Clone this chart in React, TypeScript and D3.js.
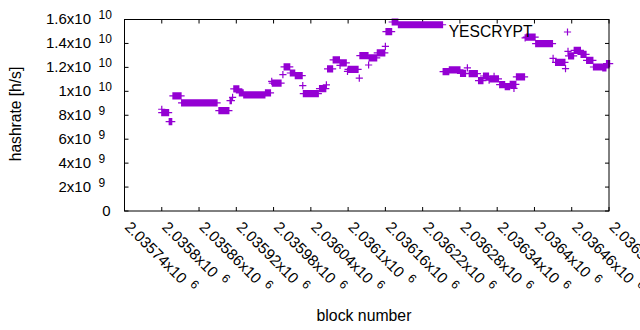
import React from "react";
import * as d3 from "d3";

// Runs of consecutive blocks sharing one hashrate estimate (block start, block end, h/s)
const runStart = [
  2035800, 2035800, 2035812, 2035818, 2035832, 2035892, 2035910, 2035914, 2035916, 2035925,
  2035932, 2035967, 2035977, 2035978, 2035995, 2035997, 2036007, 2036015, 2036027, 2036028,
  2036054, 2036065, 2036067, 2036076, 2036087, 2036088, 2036099, 2036100, 2036118, 2036119,
  2036133, 2036134, 2036147, 2036160, 2036161, 2036171, 2036181, 2036253, 2036263, 2036281,
  2036292, 2036295, 2036310, 2036318, 2036327, 2036329, 2036335, 2036344, 2036353, 2036361,
  2036367, 2036371, 2036385, 2036387, 2036402, 2036430, 2036434, 2036450, 2036454, 2036455,
  2036464, 2036475, 2036484, 2036495, 2036510, 2036516,
];
const runEnd = [
  2035800, 2035811, 2035816, 2035831, 2035889, 2035908, 2035912, 2035914, 2035924, 2035931,
  2035966, 2035975, 2035977, 2035992, 2035995, 2036006, 2036014, 2036026, 2036027, 2036052,
  2036064, 2036065, 2036075, 2036086, 2036087, 2036097, 2036099, 2036116, 2036118, 2036132,
  2036133, 2036146, 2036159, 2036160, 2036170, 2036180, 2036252, 2036262, 2036280, 2036289,
  2036292, 2036308, 2036317, 2036326, 2036327, 2036342, 2036335, 2036352, 2036360, 2036370,
  2036367, 2036384, 2036385, 2036401, 2036429, 2036430, 2036449, 2036450, 2036454, 2036463,
  2036474, 2036483, 2036494, 2036509, 2036515, 2036521,
];
const runValue = [
  8.5e9, 8.22e9, 7.47e9, 9.62e9, 9.04e9, 8.39e9, 9.22e9, 9.5e9, 10.2e9, 9.87e9,
  9.71e9, 9.87e9, 10.83e9, 10.69e9, 11.39e9, 12.04e9, 11.53e9, 11.31e9, 10.48e9, 9.8e9,
  10.22e9, 10.54e9, 11.88e9, 12.63e9, 12.17e9, 12.38e9, 11.67e9, 11.83e9, 11.11e9, 12.98e9,
  12.2e9, 12.79e9, 13.21e9, 13.75e9, 14.98e9, 15.79e9, 15.56e9, 11.64e9, 11.79e9, 11.5e9,
  11.96e9, 11.47e9, 10.9e9, 11.28e9, 10.94e9, 11.04e9, 11.25e9, 10.56e9, 10.39e9, 10.58e9,
  10.25e9, 11.21e9, 14.46e9, 14.53e9, 13.98e9, 12.75e9, 12.42e9, 11.89e9, 13.33e9, 12.96e9,
  13.42e9, 13.08e9, 12.58e9, 12.03e9, 11.96e9, 12.31e9,
];

const seriesName = "YESCRYPT";
const xTickValues = [
  2035740, 2035800, 2035860, 2035920, 2035980, 2036040, 2036100, 2036160, 2036220, 2036280,
  2036340, 2036400, 2036460, 2036520,
];
const xTickMantissa = [
  "2.03574", "2.0358", "2.03586", "2.03592", "2.03598", "2.03604", "2.0361", "2.03616",
  "2.03622", "2.03628", "2.03634", "2.0364", "2.03646", "2.03652",
];
const xTickExp = "6";
const yTickValues = [0, 2e9, 4e9, 6e9, 8e9, 10e9, 12e9, 14e9, 16e9];
const yTickMantissa = ["0", "2", "4", "6", "8", "1", "1.2", "1.4", "1.6"];
const yTickExp = ["", "9", "9", "9", "9", "10", "10", "10", "10"];

const W = 640;
const H = 330;
const X0 = 124.5;
const X1 = 609;
const Y0 = 19.5;
const Y1 = 211;
const FONT = "'Liberation Sans', Arial, sans-serif";
const COLOR = "#9400d3";
const PS = 3.6;

function plus(x: number, y: number) {
  return `M${x - PS},${y}H${x + PS}M${x},${y - PS}V${y + PS}`;
}

export default function App() {
  const x = d3.scaleLinear().domain([2035740, 2036520]).range([X0, X1]);
  const y = d3.scaleLinear().domain([0, 16e9]).range([Y1, Y0]);

  let d = "";
  runStart.forEach((s, i) => {
    d3.range(s, runEnd[i] + 1).forEach((b) => {
      d += plus(x(b), y(runValue[i]));
    });
  });

  return (
    <svg
      width={W}
      height={H}
      style={{ position: "absolute", left: 0, top: 0, background: "#fff" }}
      fontFamily={FONT}
    >
      <rect x={0} y={0} width={W} height={H} fill="#fff" />
      {/* ticks */}
      <g stroke="#000" strokeWidth={1}>
        {yTickValues.map((v, i) => (
          <g key={"yt" + i}>
            <line x1={X0} x2={X0 + 4} y1={y(v)} y2={y(v)} />
            <line x1={X1} x2={X1 - 4} y1={y(v)} y2={y(v)} />
          </g>
        ))}
        {xTickValues.map((v, i) => (
          <g key={"xt" + i}>
            <line x1={x(v)} x2={x(v)} y1={Y1} y2={Y1 - 4} />
            <line x1={x(v)} x2={x(v)} y1={Y0} y2={Y0 + 4} />
          </g>
        ))}
      </g>
      {/* y tick labels */}
      <g fontSize={15} fill="#000">
        {yTickValues.map((v, i) =>
          yTickExp[i] === "" ? (
            <text key={"yl" + i} x={110.5} y={y(v) + 4.8} textAnchor="end">
              {yTickMantissa[i]}
            </text>
          ) : (
            <g key={"yl" + i}>
              <text x={91} y={y(v) + 4.8} textAnchor="end">
                {yTickMantissa[i] + "x10"}
              </text>
              <text x={98.5} y={y(v) - 0.5} fontSize={12}>
                {yTickExp[i]}
              </text>
            </g>
          )
        )}
      </g>
      {/* x tick labels */}
      <g fontSize={15.3} fill="#000">
        {xTickValues.map((v, i) => (
          <text key={"xl" + i} transform={`translate(${x(v) - 0.5},228) rotate(45)`}>
            <tspan>{xTickMantissa[i] + "x10"}</tspan>
            <tspan dx={6.5} dy={-6} fontSize={12}>
              {xTickExp}
            </tspan>
          </text>
        ))}
      </g>
      {/* axis titles */}
      <text
        transform="translate(21,114) rotate(-90)"
        textAnchor="middle"
        fontSize={15.6}
        fill="#000"
      >
        hashrate [h/s]
      </text>
      <text x={364} y={321} textAnchor="middle" fontSize={15.8} fill="#000">
        block number
      </text>
      {/* data */}
      <path d={d} stroke={COLOR} strokeWidth={1.2} fill="none" />
      {/* key */}
      <text x={532.5} y={36.5} textAnchor="end" fontSize={15.6} fill="#000">
        {seriesName}
      </text>
      <path d={plus(567.5, 32)} stroke={COLOR} strokeWidth={1.2} fill="none" />
      {/* frame */}
      <rect x={X0} y={Y0} width={X1 - X0} height={Y1 - Y0} fill="none" stroke="#000" strokeWidth={1} />
    </svg>
  );
}
